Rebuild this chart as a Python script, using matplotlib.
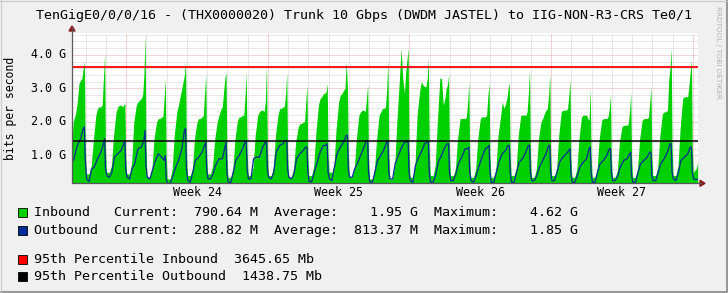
import numpy as np
import matplotlib
matplotlib.use("Agg")
import matplotlib.pyplot as plt
from matplotlib.patches import Polygon, Rectangle
from matplotlib.lines import Line2D

# ---------------- data (values in G bit/s) ----------------
title = "TenGigE0/0/0/16 - (THX0000020) Trunk 10 Gbps (DWDM JASTEL) to IIG-NON-R3-CRS Te0/1"
y_label = "bits per second"
y_ticks = [1.0, 2.0, 3.0, 4.0]
y_tick_labels = ["1.0 G", "2.0 G", "3.0 G", "4.0 G"]
week_labels = ["Week 24", "Week 25", "Week 26", "Week 27"]
week_label_hours = [132, 300, 468, 636]      # mid-week (hours from first midnight)

# hour-of-day sample positions for each daily cycle
in_hours = [0.6, 4, 6.5, 9, 12, 14, 16, 18, 19.5, 21, 22.4, 23.4]
out_hours = [1, 4, 7, 10, 14, 18, 21, 22.4, 23.4]

inbound_days = [
    [0.40, 0.40, 0.60, 2.00, 2.25, 2.60, 3.15, 3.25, 3.30, 3.60, 3.80, 1.30],
    [0.45, 0.45, 0.70, 1.45, 2.20, 2.40, 2.45, 2.45, 2.50, 3.30, 4.05, 1.20],
    [0.50, 0.50, 0.70, 1.60, 2.30, 2.45, 2.50, 2.50, 2.45, 2.50, 2.58, 1.00],
    [0.45, 0.45, 0.80, 2.00, 2.50, 2.60, 2.65, 2.70, 2.80, 3.40, 4.62, 1.30],
    [0.35, 0.35, 0.60, 1.50, 2.00, 2.10, 2.10, 2.15, 2.15, 2.70, 3.30, 1.00],
    [0.30, 0.30, 0.60, 1.60, 2.30, 2.50, 2.75, 3.00, 3.20, 3.40, 3.83, 1.20],
    [0.40, 0.40, 0.60, 1.50, 2.00, 2.10, 2.10, 2.15, 2.20, 2.90, 3.40, 1.10],
    [0.45, 0.45, 0.70, 1.50, 2.00, 2.20, 2.35, 2.45, 2.90, 3.30, 3.47, 1.10],
    [0.35, 0.35, 0.60, 1.50, 2.05, 2.15, 2.15, 2.20, 2.20, 2.80, 3.47, 1.10],
    [0.40, 0.40, 0.65, 1.60, 2.20, 2.30, 2.35, 2.35, 2.30, 2.60, 3.70, 1.20],
    [0.40, 0.40, 0.65, 1.60, 2.20, 2.40, 2.40, 2.45, 2.45, 2.80, 3.47, 1.10],
    [0.35, 0.35, 0.60, 1.40, 1.85, 1.95, 1.95, 2.00, 2.00, 2.60, 3.10, 1.00],
    [0.40, 0.40, 0.70, 1.70, 2.50, 2.70, 2.75, 2.85, 2.85, 2.90, 3.15, 1.00],
    [0.50, 0.50, 0.75, 1.80, 2.60, 2.80, 2.85, 2.95, 3.00, 3.81, 3.00, 1.10],
    [0.35, 0.35, 0.60, 1.50, 2.20, 2.30, 2.35, 2.35, 2.30, 2.70, 3.13, 1.00],
    [0.30, 0.30, 0.60, 1.50, 2.20, 2.30, 2.40, 2.40, 2.45, 3.00, 3.85, 1.20],
    [0.30, 0.30, 0.70, 2.00, 3.25, 4.20, 3.30, 2.85, 3.50, 3.85, 4.20, 1.30],
    [0.35, 0.35, 0.70, 2.20, 2.90, 3.20, 3.10, 3.05, 3.05, 3.30, 3.87, 1.20],
    [0.40, 0.40, 0.70, 2.00, 3.30, 3.30, 2.50, 2.70, 3.00, 3.10, 3.42, 1.10],
    [0.40, 0.40, 0.60, 1.50, 2.10, 2.10, 2.10, 2.10, 2.15, 2.60, 3.18, 1.00],
    [0.35, 0.35, 0.60, 1.50, 2.10, 2.15, 2.15, 2.15, 2.20, 2.80, 3.15, 1.00],
    [0.35, 0.35, 0.60, 1.60, 2.15, 2.60, 2.40, 2.55, 2.70, 3.00, 3.15, 1.00],
    [0.40, 0.40, 0.60, 1.60, 2.20, 2.20, 2.20, 2.20, 2.30, 2.85, 3.55, 1.10],
    [0.35, 0.35, 0.60, 1.50, 2.00, 2.10, 2.25, 2.35, 2.40, 2.80, 3.42, 1.10],
    [0.40, 0.40, 0.60, 1.60, 2.30, 2.35, 2.35, 2.35, 2.40, 2.80, 3.25, 1.00],
    [0.35, 0.35, 0.60, 1.50, 2.15, 2.20, 2.20, 2.20, 2.10, 2.05, 3.00, 1.00],
    [0.35, 0.35, 0.60, 1.50, 2.05, 2.10, 2.10, 2.10, 2.15, 2.40, 2.82, 0.90],
    [0.35, 0.35, 0.55, 1.40, 1.85, 1.90, 1.90, 1.90, 1.95, 2.30, 2.88, 0.90],
    [0.35, 0.35, 0.60, 1.50, 2.05, 2.10, 2.10, 2.10, 2.15, 2.60, 3.03, 1.00],
    [0.40, 0.40, 0.65, 1.60, 2.25, 2.30, 2.30, 2.35, 3.25, 3.60, 4.20, 1.30],
    [0.40, 0.40, 0.70, 1.80, 2.70, 2.75, 2.75, 2.75, 3.10, 3.50, 3.85, 1.20],
]
inbound_tail_hours = [0.6, 4.0, 5.8]
inbound_tail = [0.50, 0.60, 0.79]

outbound_days = [
    [0.30, 0.25, 0.75, 0.90, 1.30, 1.50, 1.80, 1.85, 0.90],
    [0.30, 0.22, 0.60, 0.65, 0.90, 1.10, 1.35, 1.50, 0.60],
    [0.40, 0.35, 0.50, 0.95, 1.05, 1.15, 1.35, 1.45, 0.60],
    [0.35, 0.30, 0.60, 0.75, 1.20, 1.25, 1.45, 1.75, 0.70],
    [0.35, 0.30, 0.55, 0.80, 1.05, 0.95, 0.85, 1.00, 0.30],
    [0.17, 0.17, 0.35, 0.60, 0.85, 1.20, 1.75, 1.80, 0.60],
    [0.25, 0.20, 0.50, 0.85, 0.95, 1.10, 1.30, 1.40, 0.60],
    [0.30, 0.30, 0.45, 0.70, 0.90, 0.90, 1.25, 1.40, 0.50],
    [0.20, 0.20, 0.50, 0.85, 1.00, 1.20, 1.40, 1.40, 0.60],
    [0.30, 0.30, 0.90, 0.95, 0.95, 1.25, 1.40, 1.40, 0.60],
    [0.35, 0.30, 0.50, 1.10, 1.30, 1.35, 1.45, 1.45, 0.60],
    [0.35, 0.30, 0.45, 0.90, 1.05, 1.15, 1.25, 1.25, 0.50],
    [0.22, 0.22, 0.50, 0.75, 1.10, 1.30, 1.30, 1.35, 0.50],
    [0.30, 0.25, 0.65, 1.05, 1.25, 1.40, 1.60, 1.60, 0.60],
    [0.35, 0.35, 0.60, 0.75, 1.00, 1.25, 1.45, 1.45, 0.50],
    [0.20, 0.20, 0.50, 0.85, 1.00, 1.20, 1.40, 1.45, 0.50],
    [0.30, 0.30, 0.75, 0.95, 1.20, 1.40, 1.40, 1.45, 0.50],
    [0.25, 0.20, 0.70, 0.90, 1.10, 1.35, 1.40, 1.40, 0.50],
    [0.20, 0.20, 0.40, 0.80, 1.00, 1.25, 1.35, 1.35, 0.50],
    [0.25, 0.25, 0.45, 0.75, 0.95, 1.20, 1.20, 1.25, 0.50],
    [0.25, 0.20, 0.40, 0.65, 0.95, 1.20, 1.25, 1.30, 0.50],
    [0.20, 0.20, 0.50, 0.80, 1.05, 1.15, 1.30, 1.30, 0.50],
    [0.20, 0.20, 0.50, 0.80, 0.90, 1.10, 1.30, 1.30, 0.50],
    [0.25, 0.25, 0.40, 0.65, 0.85, 1.05, 1.30, 1.30, 0.50],
    [0.25, 0.25, 0.50, 0.80, 0.95, 1.05, 1.15, 1.20, 0.50],
    [0.20, 0.20, 0.40, 0.65, 0.80, 0.90, 1.20, 1.25, 0.50],
    [0.20, 0.20, 0.50, 0.75, 0.85, 1.00, 1.20, 1.20, 0.50],
    [0.25, 0.25, 0.40, 0.65, 0.85, 0.90, 1.05, 1.10, 0.40],
    [0.20, 0.20, 0.50, 0.75, 0.85, 0.95, 1.10, 1.10, 0.40],
    [0.25, 0.25, 0.50, 0.75, 0.90, 1.10, 1.35, 1.35, 0.50],
    [0.30, 0.25, 0.50, 0.85, 0.95, 1.05, 1.25, 1.25, 0.50],
]
outbound_tail_hours = [1.0, 4.0, 5.8]
outbound_tail = [0.30, 0.28, 0.29]

p95_in = 3.64565   # G
p95_out = 1.43875  # G

legend_rows = [
    ("Inbound   Current:  790.64 M  Average:    1.95 G  Maximum:    4.62 G", "#00CF00"),
    ("Outbound  Current:  288.82 M  Average:  813.37 M  Maximum:    1.85 G", "#002A97"),
    ("95th Percentile Inbound  3645.65 Mb", "#FF0000"),
    ("95th Percentile Outbound  1438.75 Mb", "#000000"),
]

# ---------------- build series ----------------
t_in, v_in, t_out, v_out = [], [], [], []
for c, (vi, vo) in enumerate(zip(inbound_days, outbound_days)):
    base = (c - 1) * 24
    t_in += [base + h for h in in_hours]
    v_in += vi
    t_out += [base + h for h in out_hours]
    v_out += vo
base = (len(inbound_days) - 1) * 24
t_in += [base + h for h in inbound_tail_hours]
v_in += inbound_tail
t_out += [base + h for h in outbound_tail_hours]
v_out += outbound_tail

# ---------------- figure ----------------
W, H = 728, 293
fig = plt.figure(figsize=(W / 100, H / 100), dpi=100)
fig.patch.set_facecolor("#F0F0F0")

def fx(x):
    return x / W

def fy(y):
    return 1 - y / H

L, R, T, B = 72, 697.5, 33, 183.3
ax = fig.add_axes([fx(L), fy(B), fx(R) - fx(L), fy(T) - fy(B)])
ax.set_facecolor("white")
XMIN, XMAX = -16.3, 725.6
YMIN, YMAX = 0.17, 4.65
ax.set_xlim(XMIN, XMAX)
ax.set_ylim(YMIN, YMAX)
for s in ax.spines.values():
    s.set_visible(False)
ax.set_xticks([])
ax.set_yticks([])

dot = (0, (1, 1))
# minor horizontal grid every 0.2 G
for yv in np.arange(0.2, 4.65, 0.2):
    if abs(yv - round(yv)) < 1e-6:
        continue
    ax.axhline(yv, color="#D2D2D2", lw=0.72, ls=dot, zorder=0)
for yv in y_ticks:
    ax.axhline(yv, color="#E6A6A6", lw=0.72, ls=dot, zorder=0)
# vertical grid: daily and weekly (weeks start at hour 48)
for d in range(0, 31):
    hx = d * 24
    if (d - 2) % 7 == 0:
        ax.axvline(hx, color="#E6A6A6", lw=0.72, ls=dot, zorder=0)
    else:
        ax.axvline(hx, color="#D2D2D2", lw=0.72, ls=dot, zorder=0)

ax.fill_between(t_in, 0, v_in, color="#00CF00", lw=0, zorder=2)
ax.plot(t_out, v_out, color="#002A97", lw=0.9, zorder=3)
ax.axhline(p95_in, color="#FF0000", lw=1.3, zorder=4, snap=True)
ax.axhline(p95_out, color="#000000", lw=1.1, zorder=4, snap=True)

# axes lines with arrows
axis_col = "#5A5A5A"
fig.add_artist(Line2D([fx(L), fx(701)], [fy(B), fy(B)], color=axis_col, lw=0.9))
fig.add_artist(Line2D([fx(L), fx(L)], [fy(B), fy(28)], color=axis_col, lw=0.9))
arrow_col = "#8B1A1A"
fig.add_artist(Polygon([(fx(700), fy(B - 3)), (fx(700), fy(B + 3)), (fx(705), fy(B))],
                       closed=True, color=arrow_col, transform=fig.transFigure))
fig.add_artist(Polygon([(fx(L - 3), fy(31)), (fx(L + 3), fy(31)), (fx(L), fy(26))],
                       closed=True, color=arrow_col, transform=fig.transFigure))

mono = "DejaVu Sans Mono"
# y tick labels
for yv, lab in zip(y_ticks, y_tick_labels):
    ypx = B - (yv - YMIN) / (YMAX - YMIN) * (B - T)
    fig.text(fx(66), fy(ypx), lab, ha="right", va="center", family=mono, fontsize=8.4)
# week labels
for hx, lab in zip(week_label_hours, week_labels):
    xpx = L + (hx - XMIN) / (XMAX - XMIN) * (R - L)
    fig.text(fx(xpx), fy(192), lab, ha="center", va="center", family=mono, fontsize=8.4)

fig.text(fx(11), fy(108), y_label, rotation=90, ha="center", va="center", family=mono, fontsize=8.3)
fig.text(fx(364), fy(15), title, ha="center", va="center", family=mono, fontsize=9.6)
fig.text(fx(718), fy(6), "RRDTOOL / TOBI OETIKER", rotation=-90, ha="center", va="top",
         family="DejaVu Sans", fontsize=5.2, color="#B0B0B0")

# legend
row_y = [212.5, 230.5, 259.5, 276.5]
for (txt, col), ry in zip(legend_rows, row_y):
    fig.add_artist(Rectangle((fx(17.5), fy(ry + 4.5)), 9 / W, 9 / H, facecolor=col,
                             edgecolor="black", lw=0.6, transform=fig.transFigure))
    fig.text(fx(34), fy(ry), txt, ha="left", va="center", family=mono, fontsize=9.6)

# frame
fig.add_artist(Line2D([fx(0), fx(728)], [fy(292), fy(292)], color="#999999", lw=1.5))
fig.add_artist(Line2D([fx(727), fx(727)], [fy(0), fy(293)], color="#999999", lw=1.5))
fig.add_artist(Line2D([fx(0), fx(728)], [fy(0.5), fy(0.5)], color="#CBCBCB", lw=0.8))
fig.add_artist(Line2D([fx(0.5), fx(0.5)], [fy(0), fy(293)], color="#CBCBCB", lw=0.8))

fig.savefig("out.png", dpi=100, facecolor=fig.get_facecolor())
